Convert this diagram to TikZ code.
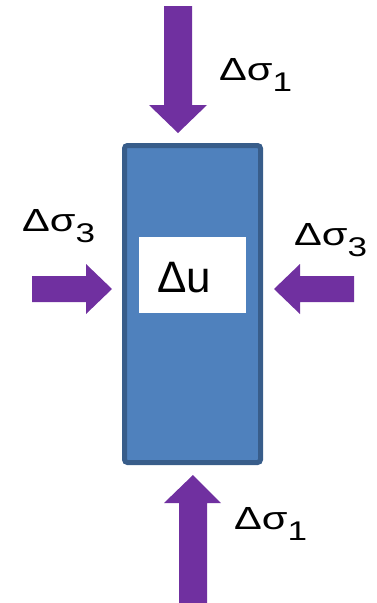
\documentclass[tikz,border=0pt]{standalone}
\usepackage{fontspec}
\setmainfont{Liberation Sans}
\usepackage{tikz}
\usetikzlibrary{positioning, calc}
\definecolor{loadPurple}{HTML}{7030A0}
\definecolor{soilBlue}{HTML}{4F81BD}
\definecolor{soilEdge}{HTML}{385D8A}
\newcommand{\dsig}[1]{\scalebox{1.3}[1]{Δσ\raisebox{-11pt}{\fontsize{27}{27}\selectfont #1}}}
\tikzset{
    load_arrow/.style={
        fill=loadPurple, draw=none
    },
    sample_box/.style={
        fill=soilBlue, draw=soilEdge, line width=5pt, rounded corners=3pt
    },
    pore_box/.style={
        rectangle, fill=white, draw=none, minimum width=107pt, minimum height=76pt, inner sep=0pt
    },
    stress_lbl/.style={
        font=\fontsize{32}{36}\selectfont, inner sep=0pt, anchor=base west
    },
    pore_lbl/.style={
        font=\fontsize{44}{48}\selectfont, inner sep=0pt, anchor=base west
    }
}
\begin{document}
\begin{tikzpicture}[x=1pt, y=-1pt]
    \useasboundingbox (0,0) rectangle (376,603);

    % Soil sample
    \draw[sample_box] (124.5,145.5) rectangle (260.5,462.5);
    \coordinate (sample) at (192.5,304);

    % Pore pressure window
    \node[pore_box] (pore) at (192.5,275) {};
    \node[pore_lbl] (du) at (157,292) {Δu};

    % Top load arrow (pointing down)
    \fill[load_arrow] (164,6) -- (192,6) -- (192,105) -- (207,105) -- (178,133)
        -- (149,105) -- (164,105) -- cycle;
    % Bottom load arrow (pointing up)
    \fill[load_arrow] (179,603) -- (207,603) -- (207,503) -- (221,503) -- (193,475)
        -- (164,503) -- (179,503) -- cycle;
    % Left confining arrow
    \fill[load_arrow] (32,276) -- (86,276) -- (86,264) -- (112,289) -- (86,314)
        -- (86,302) -- (32,302) -- cycle;
    % Right confining arrow
    \fill[load_arrow] (354,276) -- (300,276) -- (300,264) -- (274,289) -- (300,314)
        -- (300,302) -- (354,302) -- cycle;

    % Stress labels
    \node[stress_lbl] (s1top) at (219,80) {\dsig{1}};
    \node[stress_lbl] (s1bot) at (234,529) {\dsig{1}};
    \node[stress_lbl] (s3left) at (22,231) {\dsig{3}};
    \node[stress_lbl] (s3right) at (294,245) {\dsig{3}};
\end{tikzpicture}
\end{document}
